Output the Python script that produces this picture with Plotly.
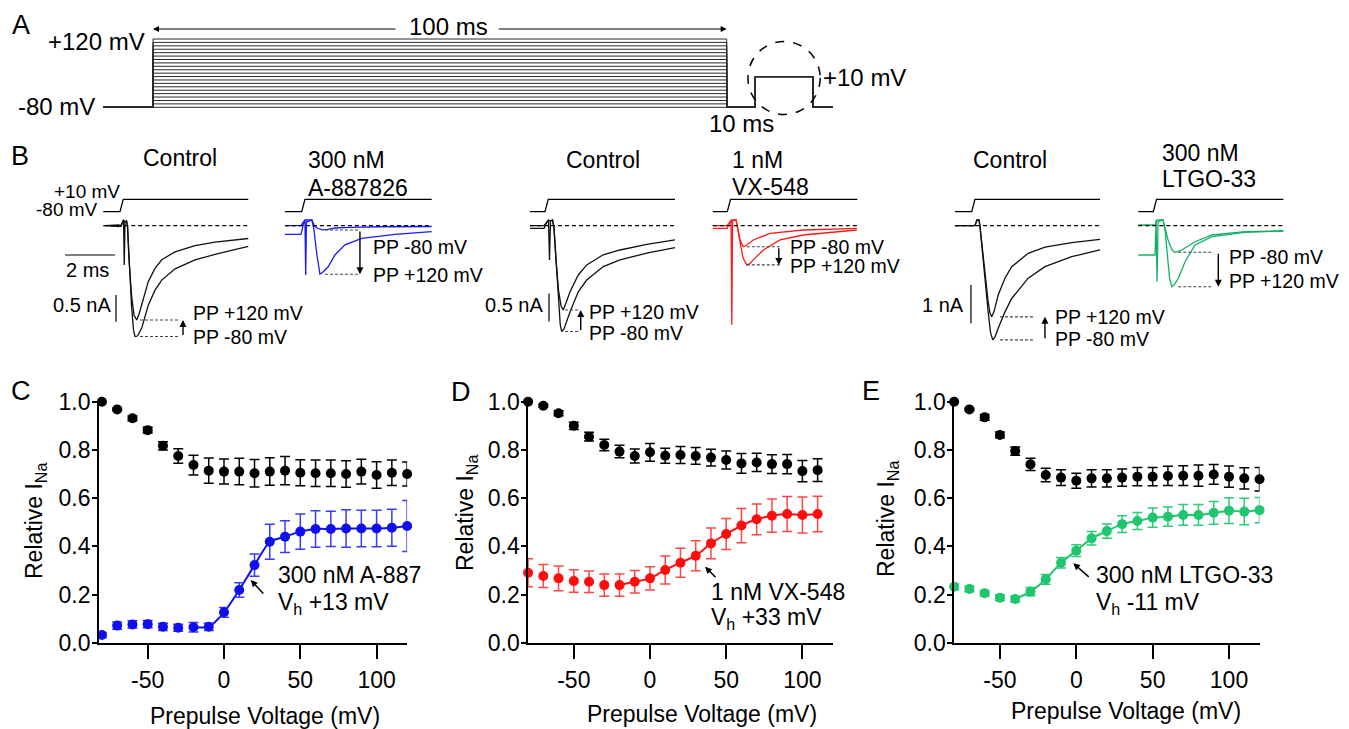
import plotly.graph_objects as go

W, H = 1349, 729
OFF = 8  # page body margin of the browser
FONT = "Liberation Sans, Arial, sans-serif"

# ---------------- Panel A : voltage protocol ----------------
A_PREPULSE_MV = list(range(-80, 121, 10))
A_HOLD_MV = -80
A_TEST_MV = 10
A_T_START = -8.7
A_PREPULSE_MS = 100
A_GAP_MS = 5
A_TEST_MS = 10
A_TAIL_MS = 3.5

# ---------------- Panel B : current traces (time ms, current nA) ----------------
# Control (A-887826 pair)
B1_T_UP = [-0.6, -0.04, 0.04, 0.14, 0.17, 0.2, 0.26, 0.3, 0.36, 0.46, 0.56, 0.67, 0.76, 0.87, 1.13, 1.4, 1.67, 2.2, 3.0, 3.8, 5.13]
B1_I_UP = [0, -0.015, 0.013, 0.107, -0.737, 0.07, 0.088, -0.006, -0.64, -1.3, -1.675, -1.77, -1.66, -1.49, -1.05, -0.80, -0.64, -0.49, -0.375, -0.31, -0.24]
B1_T_LO = [-0.6, -0.04, 0.04, 0.14, 0.2, 0.26, 0.3, 0.36, 0.46, 0.54, 0.6, 0.7, 0.87, 1.13, 1.4, 1.67, 2.2, 3.0, 3.8, 5.13]
B1_I_LO = [0, 0.013, -0.015, 0.107, 0.07, 0.09, 0, -0.68, -1.49, -1.96, -2.08, -2.07, -1.92, -1.49, -1.21, -1.02, -0.81, -0.64, -0.54, -0.39]
# 300 nM A-887826
B2_T_SM = [-0.67, -0.03, 0.13, 0.41, 0.51, 0.65, 0.86, 1.05, 1.33, 1.93, 3.13, 5.2]
B2_I_SM = [0, 0, 0.107, 0.107, -0.006, -0.053, -0.08, -0.071, -0.043, -0.03, -0.02, -0.015]
B2_T_LG = [-0.67, -0.03, 0.09, 0.13, 0.16, 0.19, 0.41, 0.49, 0.61, 0.73, 0.85, 1.06, 1.33, 1.73, 2.4, 3.73, 5.2]
B2_I_LG = [-0.161, -0.161, 0.069, 0.107, -0.925, 0.069, 0.107, -0.08, -0.55, -0.91, -0.87, -0.77, -0.55, -0.36, -0.236, -0.161, -0.113]
# Control (VX-548 pair)
B3_T_UP = [-0.6, -0.04, 0.08, 0.14, 0.18, 0.22, 0.3, 0.36, 0.44, 0.54, 0.64, 0.73, 0.84, 1.0, 1.33, 1.67, 2.33, 3.0, 4.07, 5.2]
B3_I_UP = [-0.046, -0.046, 0.066, 0.102, -0.61, 0.084, 0.102, -0.04, -0.61, -1.15, -1.43, -1.505, -1.38, -1.18, -0.88, -0.70, -0.52, -0.434, -0.332, -0.255]
B3_T_LO = [-0.6, -0.04, 0.08, 0.14, 0.22, 0.3, 0.36, 0.44, 0.54, 0.61, 0.67, 0.76, 1.0, 1.33, 1.67, 2.33, 3.0, 4.07, 5.2]
B3_I_LO = [0, 0, 0.066, 0.102, 0.084, 0.102, -0.04, -0.65, -1.33, -1.77, -1.89, -1.845, -1.54, -1.18, -0.97, -0.73, -0.61, -0.49, -0.39]
# 1 nM VX-548
B4_T_SM = [-0.58, -0.01, 0.11, 0.17, 0.35, 0.41, 0.51, 0.64, 0.75, 1.04, 1.71, 3.04, 5.18]
B4_I_SM = [0, 0, 0.066, 0.102, 0.102, -0.04, -0.255, -0.375, -0.354, -0.255, -0.136, -0.077, -0.046]
B4_T_LG = [-0.58, -0.01, 0.11, 0.15, 0.18, 0.21, 0.35, 0.41, 0.51, 0.63, 0.78, 0.91, 1.04, 1.44, 2.11, 3.04, 5.18]
B4_I_LG = [-0.046, -0.046, 0.066, 0.102, -1.77, 0.084, 0.102, -0.04, -0.345, -0.577, -0.70, -0.675, -0.61, -0.434, -0.255, -0.166, -0.077]
# Control (LTGO-33 pair)
B5_T_UP = [-0.67, 0.13, 0.21, 0.29, 0.33, 0.41, 0.53, 0.65, 0.73, 0.8, 0.89, 1.06, 1.33, 1.6, 2.26, 2.93, 4.0, 5.13]
B5_I_UP = [0, 0, 0.149, 0.149, -0.008, -0.50, -1.29, -1.94, -2.28, -2.38, -2.25, -1.81, -1.37, -1.07, -0.72, -0.56, -0.444, -0.355]
B5_T_LO = [-0.67, 0.13, 0.21, 0.29, 0.33, 0.41, 0.53, 0.65, 0.75, 0.84, 0.93, 1.06, 1.33, 1.6, 2.26, 2.93, 4.0, 5.13]
B5_I_LO = [0, 0, 0.149, 0.149, -0.008, -0.50, -1.37, -2.20, -2.78, -2.98, -2.91, -2.68, -2.25, -1.90, -1.37, -1.07, -0.81, -0.634]
# 300 nM LTGO-33
B6_T_SM = [-0.6, 0.07, 0.15, 0.39, 0.47, 0.59, 0.75, 0.87, 0.99, 1.14, 1.67, 2.34, 3.67, 5.2]
B6_I_SM = [0.018, 0.018, 0.149, 0.149, -0.06, -0.373, -0.634, -0.695, -0.674, -0.634, -0.418, -0.243, -0.157, -0.138]
B6_T_LG = [-0.6, 0.07, 0.11, 0.15, 0.19, 0.39, 0.47, 0.55, 0.65, 0.74, 0.83, 1.0, 1.27, 1.67, 2.34, 3.67, 5.2]
B6_I_LG = [-0.765, -0.765, 0.149, -1.46, 0.097, 0.149, -0.112, -0.765, -1.366, -1.593, -1.55, -1.373, -0.94, -0.504, -0.287, -0.172, -0.138]

B_STEP_MV = [-80, -80, 10, 10]
B_STEP_RISE_MS = 0.13
B_T_SPAN = [(-0.67, 5.13), (-0.67, 5.2), (-0.6, 5.2), (-0.58, 5.2), (-0.67, 5.13), (-0.6, 5.2)]
SCALE_MS = 2
SCALE_NA = [0.5, 0.5, 1.0]

# ---------------- Panels C, D, E : relative INa vs prepulse voltage ----------------
V_C = list(range(-80, 121, 10))
C_CTRL = [1.00, 0.968, 0.931, 0.882, 0.817, 0.775, 0.737, 0.714, 0.710, 0.710, 0.703, 0.710, 0.714, 0.705, 0.703, 0.703, 0.700, 0.710, 0.696, 0.705, 0.700]
C_CTRL_ERR = [0.0, 0.005, 0.01, 0.012, 0.017, 0.03, 0.041, 0.052, 0.052, 0.055, 0.057, 0.057, 0.059, 0.054, 0.055, 0.055, 0.055, 0.051, 0.055, 0.053, 0.05]
C_DRUG = [0.032, 0.071, 0.076, 0.077, 0.066, 0.062, 0.064, 0.066, 0.126, 0.219, 0.322, 0.419, 0.440, 0.461, 0.472, 0.472, 0.474, 0.474, 0.474, 0.477, 0.484]
C_DRUG_ERR = [0.01, 0.015, 0.015, 0.015, 0.015, 0.015, 0.02, 0.015, 0.02, 0.03, 0.046, 0.073, 0.066, 0.073, 0.076, 0.073, 0.078, 0.076, 0.076, 0.077, 0.106]

V_D = list(range(-80, 111, 10))
D_CTRL = [1.0, 0.983, 0.952, 0.900, 0.855, 0.820, 0.793, 0.775, 0.790, 0.776, 0.779, 0.775, 0.768, 0.758, 0.744, 0.748, 0.741, 0.741, 0.712, 0.716]
D_CTRL_ERR = [0.0, 0.005, 0.01, 0.015, 0.018, 0.024, 0.026, 0.029, 0.037, 0.031, 0.035, 0.035, 0.035, 0.037, 0.041, 0.038, 0.039, 0.04, 0.044, 0.047]
D_DRUG = [0.290, 0.277, 0.267, 0.256, 0.253, 0.239, 0.239, 0.253, 0.267, 0.302, 0.332, 0.361, 0.412, 0.451, 0.486, 0.512, 0.527, 0.534, 0.530, 0.534]
D_DRUG_ERR = [0.058, 0.048, 0.051, 0.047, 0.045, 0.046, 0.046, 0.047, 0.048, 0.058, 0.06, 0.062, 0.064, 0.064, 0.071, 0.064, 0.069, 0.073, 0.075, 0.074]

V_E = list(range(-80, 121, 10))
E_CTRL = [1.0, 0.968, 0.935, 0.862, 0.795, 0.740, 0.696, 0.685, 0.672, 0.682, 0.682, 0.685, 0.689, 0.689, 0.692, 0.693, 0.693, 0.698, 0.689, 0.682, 0.678]
E_CTRL_ERR = [0.0, 0.005, 0.012, 0.012, 0.017, 0.025, 0.028, 0.033, 0.031, 0.036, 0.036, 0.036, 0.038, 0.038, 0.04, 0.041, 0.044, 0.041, 0.044, 0.044, 0.049]
E_DRUG = [0.232, 0.223, 0.205, 0.187, 0.181, 0.212, 0.263, 0.332, 0.382, 0.433, 0.463, 0.492, 0.505, 0.519, 0.523, 0.530, 0.530, 0.539, 0.548, 0.544, 0.550]
E_DRUG_ERR = [0.012, 0.012, 0.012, 0.012, 0.012, 0.017, 0.02, 0.022, 0.024, 0.028, 0.03, 0.035, 0.035, 0.04, 0.04, 0.043, 0.043, 0.047, 0.053, 0.055, 0.052]

X_TICKS = [-50, 0, 50, 100]
Y_TICKS = [0.0, 0.2, 0.4, 0.6, 0.8, 1.0]

# ---------------- helpers (reference pixel -> paper) ----------------
def xd(a, b):
    return [(a - OFF) / W, (b - OFF) / W]

def yd(top, bot):
    return [1 - (bot - OFF) / H, 1 - (top - OFF) / H]

def xrng(dom, px0, s, v0=0.0):
    return [v0 + (dom[0] - px0) / s, v0 + (dom[1] - px0) / s]

def yrng(dom, px0, s, v0=0.0):
    return [v0 - (dom[1] - px0) / s, v0 - (dom[0] - px0) / s]

def px(x):
    return (x - OFF) / W

def py(y):
    return 1 - (y - OFF) / H

fig = go.Figure()
layout = dict(width=W, height=H, margin=dict(l=0, r=0, t=0, b=0, autoexpand=False),
              paper_bgcolor="white", plot_bgcolor="rgba(0,0,0,0)",
              showlegend=False, font=dict(family=FONT, color="black"))
annotations = []
shapes = []

def txt(x, y, s, size=20, xanchor="center", angle=0):
    annotations.append(dict(x=px(x), y=py(y), xref="paper", yref="paper", text=s,
                            showarrow=False, xanchor=xanchor, yanchor="middle",
                            textangle=angle, font=dict(size=size, family=FONT, color="black")))

# ---------------- Panel A ----------------
domA_x, domA_y = (95, 860), (15, 125)
layout["xaxis"] = dict(domain=xd(*domA_x), range=xrng(domA_x, 153, 5.737), visible=False, anchor="y")
layout["yaxis"] = dict(domain=yd(*domA_y), range=yrng(domA_y, 107.3, 0.3415, -80), visible=False, anchor="x")
t_end_pre = A_PREPULSE_MS
t_test0 = t_end_pre + A_GAP_MS
t_test1 = t_test0 + A_TEST_MS
t_fin = t_test1 + A_TAIL_MS
for v in A_PREPULSE_MV:
    fig.add_trace(go.Scatter(
        x=[A_T_START, 0, 0, t_end_pre, t_end_pre, t_test0, t_test0, t_test1, t_test1, t_fin],
        y=[A_HOLD_MV, A_HOLD_MV, v, v, A_HOLD_MV, A_HOLD_MV, A_TEST_MV, A_TEST_MV, A_HOLD_MV, A_HOLD_MV],
        mode="lines", line=dict(color="#2a2a2a", width=1), xaxis="x", yaxis="y", hoverinfo="skip"))
tc = (t_test0 + t_test1) / 2
shapes.append(dict(type="circle", xref="x", yref="y", x0=tc - 6.3, x1=tc + 6.3, y0=-101, y1=112.7,
                   line=dict(color="black", width=1.5, dash="dash")))
yarr = 149.3
annotations.append(dict(x=0, y=yarr, ax=42.5, ay=yarr, xref="x", yref="y", axref="x", ayref="y",
                        text="", showarrow=True, arrowhead=2, arrowsize=1, arrowwidth=1.2, arrowcolor="black"))
annotations.append(dict(x=A_PREPULSE_MS, y=yarr, ax=60.0, ay=yarr, xref="x", yref="y", axref="x", ayref="y",
                        text="", showarrow=True, arrowhead=2, arrowsize=1, arrowwidth=1.2, arrowcolor="black"))
txt(21, 25, "A", 27)
txt(147, 42, "+120 mV", 24, "right")
txt(97, 107, "-80 mV", 24, "right")
txt(448, 26, "100 ms", 24)
txt(821, 77, "+10 mV", 24, "left")
txt(741, 123, "10 ms", 24)

# ---------------- Panel B ----------------
CTRL_C = "#111111"
BLUE_T = "#1a1aff"
RED_T = "#ff1a1a"
GREEN_T = "#14b064"
B_SPECS = [
    dict(dom=(58, 252), t0=120.0, s=53.3, color=CTRL_C, t80=B1_T_LO, i80=B1_I_LO, t120=B1_T_UP, i120=B1_I_UP, lvl=(0.8, 2.4), arr=2.52),
    dict(dom=(280, 436), t0=301.7, s=53.3, color=BLUE_T, t80=B2_T_SM, i80=B2_I_SM, t120=B2_T_LG, i120=B2_I_LG, lvl=(0.93, 2.27), arr=2.33),
    dict(dom=(525, 680), t0=545.0, s=56.0, color=CTRL_C, t80=B3_T_LO, i80=B3_I_LO, t120=B3_T_UP, i120=B3_I_UP, lvl=(0.8, 1.32), arr=1.43),
    dict(dom=(708, 862), t0=727.3, s=56.0, color=RED_T, t80=B4_T_SM, i80=B4_I_SM, t120=B4_T_LG, i120=B4_I_LG, lvl=(0.78, 2.11), arr=2.06),
    dict(dom=(950, 1105), t0=971.7, s=38.3, color=CTRL_C, t80=B5_T_LO, i80=B5_I_LO, t120=B5_T_UP, i120=B5_I_UP, lvl=(1.13, 2.46), arr=2.93),
    dict(dom=(1134, 1288), t0=1153.3, s=38.3, color=GREEN_T, t80=B6_T_SM, i80=B6_I_SM, t120=B6_T_LG, i120=B6_I_LG, lvl=(1.0, 2.34), arr=2.6),
]
cur_dom = (214, 352)
volt_dom = (190, 216)

def peak(T, I):
    return min(i for t, i in zip(T, I) if t > 0.3)

for k, sp in enumerate(B_SPECS):
    xi, yi, yv = k + 2, k + 2, k + 8
    xa, ya, yva = f"x{xi}", f"y{yi}", f"y{yv}"
    layout[f"xaxis{xi}"] = dict(domain=xd(*sp["dom"]), range=xrng(sp["dom"], sp["t0"], 25.0), visible=False, anchor=ya)
    layout[f"yaxis{yi}"] = dict(domain=yd(*cur_dom), range=yrng(cur_dom, 225.7, sp["s"]), visible=False, anchor=xa)
    layout[f"yaxis{yv}"] = dict(domain=yd(*volt_dom), range=yrng(volt_dom, 211.7, 0.1378, -80), visible=False, anchor=xa)
    t_a, t_b = B_T_SPAN[k]
    fig.add_trace(go.Scatter(x=[t_a, 0, B_STEP_RISE_MS, t_b], y=B_STEP_MV, mode="lines",
                             line=dict(color="black", width=1.3), xaxis=xa, yaxis=yva, hoverinfo="skip"))
    for T, I in ((sp["t80"], sp["i80"]), (sp["t120"], sp["i120"])):
        fig.add_trace(go.Scatter(x=T, y=I, mode="lines", line=dict(color=sp["color"], width=1.3),
                                 xaxis=xa, yaxis=ya, hoverinfo="skip"))
    fig.add_trace(go.Scatter(x=[t_a, t_b], y=[0, 0], mode="lines",
                             line=dict(color="black", width=1.3, dash="4px,3px"), xaxis=xa, yaxis=ya, hoverinfo="skip"))
    p80 = peak(sp["t80"], sp["i80"])
    p120 = peak(sp["t120"], sp["i120"])
    for p in (p80, p120):
        fig.add_trace(go.Scatter(x=list(sp["lvl"]), y=[p, p], mode="lines",
                                 line=dict(color="#444444", width=1.1, dash="3px,2px"), xaxis=xa, yaxis=ya, hoverinfo="skip"))
    annotations.append(dict(x=sp["arr"], y=p120, ax=sp["arr"], ay=p80, xref=xa, yref=ya, axref=xa, ayref=ya,
                            text="", showarrow=True, arrowhead=2, arrowsize=1, arrowwidth=1.4,
                            arrowcolor="black", standoff=0))

# scale bars
fig.add_trace(go.Scatter(x=[-2.2, -2.2 + SCALE_MS], y=[-0.55, -0.55], mode="lines",
                         line=dict(color="black", width=1.2), xaxis="x2", yaxis="y2", hoverinfo="skip"))
fig.add_trace(go.Scatter(x=[-0.16, -0.16], y=[-1.3, -1.3 - SCALE_NA[0]], mode="lines",
                         line=dict(color="black", width=1.2), xaxis="x2", yaxis="y2", hoverinfo="skip"))
fig.add_trace(go.Scatter(x=[0.16, 0.16], y=[-1.21, -1.21 - SCALE_NA[1]], mode="lines",
                         line=dict(color="black", width=1.2), xaxis="x4", yaxis="y4", hoverinfo="skip"))
fig.add_trace(go.Scatter(x=[-0.03, -0.03], y=[-1.548, -1.548 - SCALE_NA[2]], mode="lines",
                         line=dict(color="black", width=1.2), xaxis="x6", yaxis="y6", hoverinfo="skip"))

txt(20, 156, "B", 27)
txt(180, 158, "Control", 23)
txt(603, 160, "Control", 23)
txt(1010, 160, "Control", 23)
txt(306, 160, "300 nM", 23, "left")
txt(306, 188, "A-887826", 23, "left")
txt(730, 160, "1 nM", 23, "left")
txt(730, 187, "VX-548", 23, "left")
txt(1160, 153, "300 nM", 23, "left")
txt(1160, 179, "LTGO-33", 23, "left")
txt(122, 191, "+10 mV", 19, "right")
txt(100, 210, "-80 mV", 19, "right")
txt(87, 270, "2 ms", 20)
txt(113, 305, "0.5 nA", 20, "right")
txt(545, 305, "0.5 nA", 20, "right")
txt(966, 305, "1 nA", 20, "right")
for (x, y, s) in [(191, 313.3, "PP +120 mV"), (191, 337, "PP -80 mV"),
                  (371, 246.7, "PP -80 mV"), (371, 275, "PP +120 mV"),
                  (587, 311.7, "PP +120 mV"), (587, 333, "PP -80 mV"),
                  (788, 247, "PP -80 mV"), (788, 266, "PP +120 mV"),
                  (1053, 316.7, "PP +120 mV"), (1053, 338.5, "PP -80 mV"),
                  (1227, 257, "PP -80 mV"), (1227, 281, "PP +120 mV")]:
    txt(x, y, s, 19.5, "left")

# ---------------- Panels C, D, E ----------------
PANELS = [
    dict(xi=8, yi=14, V=V_C, ctrl=C_CTRL, ctrl_e=C_CTRL_ERR, drug=C_DRUG, drug_e=C_DRUG_ERR,
         color="#1010ee", ecolor="#3a3aff", fit_from=-20, xr=[-82, 120], px0=224.0, s=1.526),
    dict(xi=9, yi=15, V=V_D, ctrl=D_CTRL, ctrl_e=D_CTRL_ERR, drug=D_DRUG, drug_e=D_DRUG_ERR,
         color="#ff0d0d", ecolor="#ff4545", fit_from=-20, xr=[-80, 120], px0=650.0, s=1.524),
    dict(xi=10, yi=16, V=V_E, ctrl=E_CTRL, ctrl_e=E_CTRL_ERR, drug=E_DRUG, drug_e=E_DRUG_ERR,
         color="#1fc66e", ecolor="#2bcb78", fit_from=-40, xr=[-80, 120], px0=1076.3, s=1.527),
]
y_dom = (401.7, 642.7)
for P in PANELS:
    xa, ya = f"x{P['xi']}", f"y{P['yi']}"
    xdom = (P["px0"] + P["s"] * P["xr"][0], P["px0"] + P["s"] * P["xr"][1])
    layout[f"xaxis{P['xi']}"] = dict(
        domain=xd(*xdom), range=P["xr"], anchor=ya, showline=True, linecolor="black", linewidth=1.5,
        ticks="outside", ticklen=15, tickwidth=1.5, tickcolor="black", tickvals=X_TICKS,
        ticktext=[str(v) for v in X_TICKS], tickfont=dict(size=23, family=FONT), showgrid=False,
        zeroline=False, fixedrange=True, ticklabelstandoff=1)
    layout[f"yaxis{P['yi']}"] = dict(
        domain=yd(*y_dom), range=[0, 1], anchor=xa, showline=True, linecolor="black", linewidth=1.5,
        ticks="outside", ticklen=5, tickwidth=1.5, tickcolor="black", tickvals=Y_TICKS,
        ticktext=[f"{v:.1f}" for v in Y_TICKS], tickfont=dict(size=23, family=FONT), showgrid=False,
        zeroline=False, fixedrange=True, ticklabelstandoff=-3)
    fv = [v for v in P["V"] if v >= P["fit_from"]]
    fy = [d for v, d in zip(P["V"], P["drug"]) if v >= P["fit_from"]]
    fig.add_trace(go.Scatter(x=fv, y=fy, mode="lines", line=dict(color=P["color"], width=2, shape="spline", smoothing=0.6),
                             xaxis=xa, yaxis=ya, hoverinfo="skip"))
    fig.add_trace(go.Scatter(x=P["V"], y=P["drug"], mode="markers", cliponaxis=False,
                             marker=dict(color=P["color"], size=10),
                             error_y=dict(type="data", array=P["drug_e"], color=P["ecolor"], thickness=1.5, width=5),
                             xaxis=xa, yaxis=ya, hoverinfo="skip"))
    fig.add_trace(go.Scatter(x=P["V"], y=P["ctrl"], mode="markers", cliponaxis=False,
                             marker=dict(color="black", size=10),
                             error_y=dict(type="data", array=P["ctrl_e"], color="black", thickness=1.5, width=5),
                             xaxis=xa, yaxis=ya, hoverinfo="skip"))

txt(21, 391, "C", 27)
txt(461, 392, "D", 27)
txt(871, 391, "E", 27)
txt(35, 521, "Relative I<sub>Na</sub>", 23, angle=-90)
txt(466, 513, "Relative I<sub>Na</sub>", 23, angle=-90)
txt(887, 519, "Relative I<sub>Na</sub>", 23, angle=-90)
txt(265, 716, "Prepulse Voltage (mV)", 23)
txt(702, 714, "Prepulse Voltage (mV)", 23)
txt(1126, 711, "Prepulse Voltage (mV)", 23)
txt(276, 575, "300 nM A-887", 23, "left")
txt(276, 603, "V<sub>h</sub> +13 mV", 23, "left")
txt(709, 592, "1 nM VX-548", 23, "left")
txt(709, 618, "V<sub>h</sub> +33 mV", 23, "left")
txt(1094, 575, "300 nM LTGO-33", 23, "left")
txt(1094, 603, "V<sub>h</sub> -11 mV", 23, "left")
for xa, ya, xt, yt, dx, dy in [("x8", "y14", 17.5, 0.26, 14, 15), ("x9", "y15", 36.1, 0.315, 12, 12),
                               ("x10", "y16", -2.0, 0.33, 17, 15)]:
    annotations.append(dict(x=xt, y=yt, xref=xa, yref=ya, ax=dx, ay=dy, text="", showarrow=True,
                            arrowhead=2, arrowsize=0.9, arrowwidth=1.5, arrowcolor="black", standoff=0))

layout["annotations"] = annotations
layout["shapes"] = shapes
fig.update_layout(**layout)
fig.write_html("out.html")
